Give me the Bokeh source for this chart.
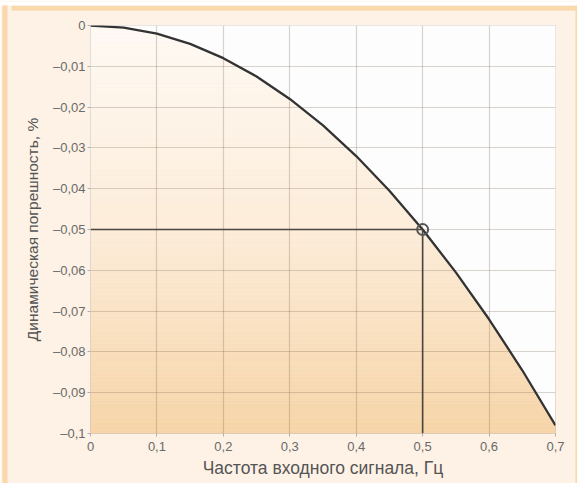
from bokeh.plotting import figure
from bokeh.models import FixedTicker, ColorBar, LinearColorMapper
from bokeh.embed import file_html
from bokeh.resources import INLINE
import numpy as np

# data
freq = [0, 0.05, 0.1, 0.15, 0.2, 0.25, 0.3, 0.35, 0.4, 0.45, 0.5, 0.55, 0.6, 0.65, 0.7]
err = [0, -0.0005, -0.002, -0.0045, -0.008, -0.0125, -0.018, -0.0245, -0.032,
       -0.0405, -0.05, -0.0605, -0.072, -0.0845, -0.098]
mark_f = [0.5]
mark_err = [-0.05]

x_ticks = [0, 0.1, 0.2, 0.3, 0.4, 0.5, 0.6, 0.7]
x_tick_labels = ["0", "0,1", "0,2", "0,3", "0,4", "0,5", "0,6", "0,7"]
y_ticks = [0, -0.01, -0.02, -0.03, -0.04, -0.05, -0.06, -0.07, -0.08, -0.09, -0.1]
y_tick_labels = ["0", "–0,01", "–0,02", "–0,03", "–0,04", "–0,05", "–0,06",
                 "–0,07", "–0,08", "–0,09", "–0,1"]

x_title = "Частота входного сигнала, Гц"
y_title = "Динамическая погрешность, %"

FONT = "Liberation Sans"
PANEL = "#fdf2e5"
ORANGE = "#f9d8aa"

W, H = 577, 483
p = figure(width=W, height=H, x_range=(x_ticks[0], x_ticks[-1]),
           y_range=(y_ticks[-1], y_ticks[0]),
           output_backend="svg", toolbar_location=None,
           min_border_left=90, min_border_right=22,
           min_border_top=25, min_border_bottom=50)
p.border_fill_color = PANEL
p.background_fill_color = "white"
p.outline_line_color = "#c4c4c4"
p.outline_line_width = 1

# gradient below the curve (horizontal bands), white above the curve
edges = np.linspace(y_ticks[-1], y_ticks[0], 101)
mids = (edges[:-1] + edges[1:]) / 2
t = (y_ticks[0] - mids) / (y_ticks[0] - y_ticks[-1])  # 0 top, 1 bottom
stops_t = [0.0, 0.5, 1.0]
stops_c = [(255, 250, 244), (253, 237, 218), (247, 213, 168)]
cols = []
for tv in t:
    r = np.interp(tv, stops_t, [c[0] for c in stops_c])
    g = np.interp(tv, stops_t, [c[1] for c in stops_c])
    b = np.interp(tv, stops_t, [c[2] for c in stops_c])
    cols.append("#%02x%02x%02x" % (int(r), int(g), int(b)))
p.quad(left=x_ticks[0], right=x_ticks[-1], bottom=edges[:-1], top=edges[1:],
       fill_color=cols, line_color=cols, line_width=0.6, level="image")
p.varea(x=freq, y1=err, y2=y_ticks[0], fill_color="#fdfdfe", level="image")

# curve, reference lines, marker
p.line(freq, err, line_color="#333333", line_width=2.3)
p.segment(x0=[x_ticks[0]], y0=mark_err, x1=mark_f, y1=mark_err,
          line_color="#4a4540", line_width=1.6)
p.segment(x0=mark_f, y0=[y_ticks[-1]], x1=mark_f, y1=mark_err,
          line_color="#4a4540", line_width=1.6)
p.scatter(mark_f, mark_err, size=11, fill_color=None, line_color="#555555",
          line_width=2)

# axes
p.xaxis.ticker = FixedTicker(ticks=x_ticks)
p.yaxis.ticker = FixedTicker(ticks=y_ticks)
p.xaxis.major_label_overrides = dict(zip(x_ticks, x_tick_labels))
p.yaxis.major_label_overrides = dict(zip(y_ticks, y_tick_labels))
for ax in (p.xaxis, p.yaxis):
    ax.axis_line_color = None
    ax.major_tick_line_color = "#b0b0b0"
    ax.major_tick_in = 0
    ax.major_tick_out = 3
    ax.minor_tick_line_color = None
    ax.major_label_text_font = FONT
    ax.major_label_text_font_size = "13px"
    ax.major_label_text_color = "#6a6a6a"
    ax.axis_label_text_font = FONT
    ax.axis_label_text_font_style = "normal"
    ax.axis_label_text_color = "#555555"
p.xaxis.axis_label_text_font_size = "17.5px"
p.yaxis.axis_label_text_font_size = "15.5px"
p.xaxis.major_label_standoff = 5
p.yaxis.major_label_standoff = 2
p.xaxis.axis_label = x_title
p.yaxis.axis_label = y_title
p.xaxis.axis_label_standoff = 4
p.yaxis.axis_label_standoff = 9

p.grid.grid_line_color = "#7a6650"
p.grid.grid_line_alpha = 0.28
p.grid.grid_line_width = 1.2


# frame strips of the panel (decorative colour bars in the side panels)
def strip(orientation, w, h, loc=(0, 0), color=ORANGE, alpha=1.0):
    return ColorBar(color_mapper=LinearColorMapper(palette=[color], low=0, high=1),
                    orientation=orientation, width=w, height=h,
                    padding=0, margin=0, location=loc,
                    ticker=FixedTicker(ticks=[]), major_tick_line_color=None,
                    minor_tick_line_color=None, bar_line_color=None,
                    border_line_color=None, background_fill_alpha=0,
                    label_standoff=0, scale_alpha=alpha)


p.add_layout(strip("vertical", 13, 100, alpha=0.0), "left")
p.add_layout(strip("vertical", 5, 478, loc=(0, -50)), "left")
p.add_layout(strip("vertical", 20, 100, alpha=0.0), "right")
p.add_layout(strip("vertical", 2, 478, loc=(0, -50)), "right")
p.add_layout(strip("horizontal", 566, 15, alpha=0.0), "above")
p.add_layout(strip("horizontal", 566, 5, loc=(-79, 0)), "above")
p.add_layout(strip("horizontal", 700, 4, loc=(-95, 0), color="#ffffff"), "above")

open("out.html", "w").write(file_html(p, INLINE))
